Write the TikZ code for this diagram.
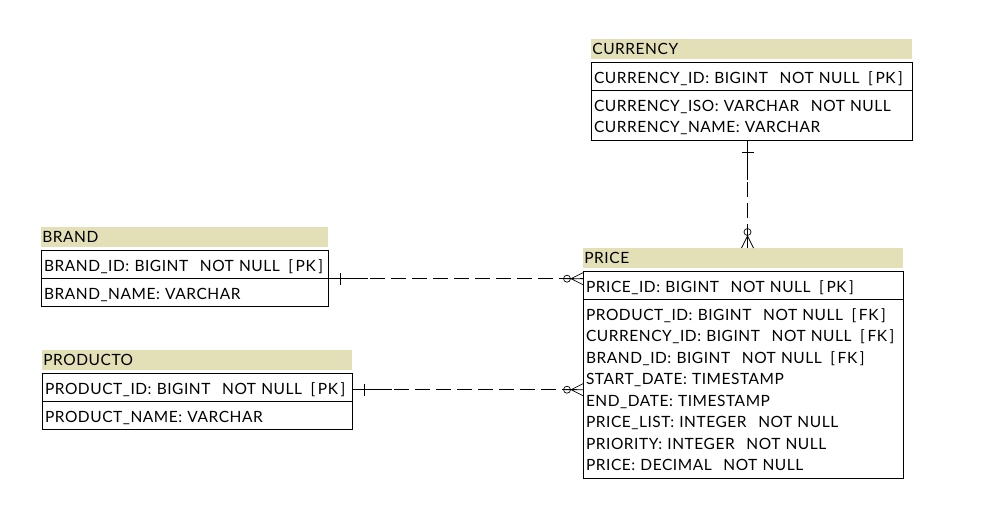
\documentclass[tikz,border=0pt]{standalone}
\usepackage{fontspec}
\setmainfont{Lato}[LetterSpace=3.5]
\usetikzlibrary{positioning, decorations.markings}
\definecolor{headfill}{RGB}{227,224,183}

\newcommand{\rowstrut}{\rule[-4pt]{0pt}{21.5pt}}
\newcommand{\nn}{\nobreak\hspace{0.75em}NOT~NULL}
\newcommand{\pk}{\nobreak\hspace{0.55em}[\,PK\,]}
\newcommand{\fk}{\nobreak\hspace{0.55em}[\,FK\,]}

\tikzset{
  tblhead/.style={fill=headfill, anchor=north west, text width=#1, minimum height=20pt,
    inner xsep=1pt, inner ysep=0pt, align=left},
  tblrow/.style={draw, anchor=north west, text width=#1, inner xsep=3pt, inner ysep=3.25pt,
    outer sep=0pt, align=left, execute at begin node=\rowstrut, execute at end node=\rowstrut},
  rel/.style={dash pattern=on 15pt off 6pt, postaction=decorate,
    decoration={markings,
      mark=at position 0 with {\draw[solid] (0,0) -- (40pt,0);},
      mark=at position 12pt with {\draw[solid] (0,-6pt) -- (0,6pt);},
      mark=at position -16pt with {\draw[solid] (0,0) circle (3.5pt);},
      mark=at position 1 with {\draw[solid] (-18pt,0) -- (0,0) (-12pt,0) -- (0,6pt) (-12pt,0) -- (0,-6pt);}}}
}

\begin{document}
\begin{tikzpicture}[x=1pt, y=-1pt, line width=0.7pt,
  font=\fontsize{15.5pt}{21.5pt}\selectfont]

  \useasboundingbox (0,0) rectangle (998,526);

  % tables
  \node[tblhead=319pt] (curh) at (591,39) {CURRENCY};
  \node[tblrow=315pt, below=3pt of curh.south west, anchor=north west] (curk)
    {CURRENCY\_ID: BIGINT\nn\pk};
  \node[tblrow=315pt, below=0pt of curk.south west, anchor=north west] (cura)
    {CURRENCY\_ISO: VARCHAR\nn\\CURRENCY\_NAME: VARCHAR};

  \node[tblhead=318pt] (priceh) at (583,248) {PRICE};
  \node[tblrow=314pt, below=3pt of priceh.south west, anchor=north west] (pricek)
    {PRICE\_ID: BIGINT\nn\pk};
  \node[tblrow=314pt, below=0pt of pricek.south west, anchor=north west] (pricea)
    {PRODUCT\_ID: BIGINT\nn\fk\\
     CURRENCY\_ID: BIGINT\nn\fk\\
     BRAND\_ID: BIGINT\nn\fk\\
     START\_DATE: TIMESTAMP\\
     END\_DATE: TIMESTAMP\\
     PRICE\_LIST: INTEGER\nn\\
     PRIORITY: INTEGER\nn\\
     PRICE: DECIMAL\nn};

  \node[tblhead=285pt] (brandh) at (41,227) {BRAND};
  \node[tblrow=281pt, below=3pt of brandh.south west, anchor=north west] (brandk)
    {BRAND\_ID:~BIGINT\nn\pk};
  \node[tblrow=281pt, below=0pt of brandk.south west, anchor=north west] (branda)
    {BRAND\_NAME: VARCHAR};

  \node[tblhead=308pt] (prodh) at (42,350) {PRODUCTO};
  \node[tblrow=304pt, below=3pt of prodh.south west, anchor=north west] (prodk)
    {PRODUCT\_ID:~BIGINT\nn\pk};
  \node[tblrow=304pt, below=0pt of prodk.south west, anchor=north west] (proda)
    {PRODUCT\_NAME: VARCHAR};

  % relations
  \draw[rel] (brandk.south east) -- (brandk.south east -| pricek.west);
  \draw[rel] ([yshift=-2pt]prodk.east) -- ([yshift=-2pt]prodk.east -| pricea.west);
  \draw[rel] ([xshift=-4pt]cura.south) -- ([xshift=-4pt]cura.south |- priceh.north);

\end{tikzpicture}
\end{document}
